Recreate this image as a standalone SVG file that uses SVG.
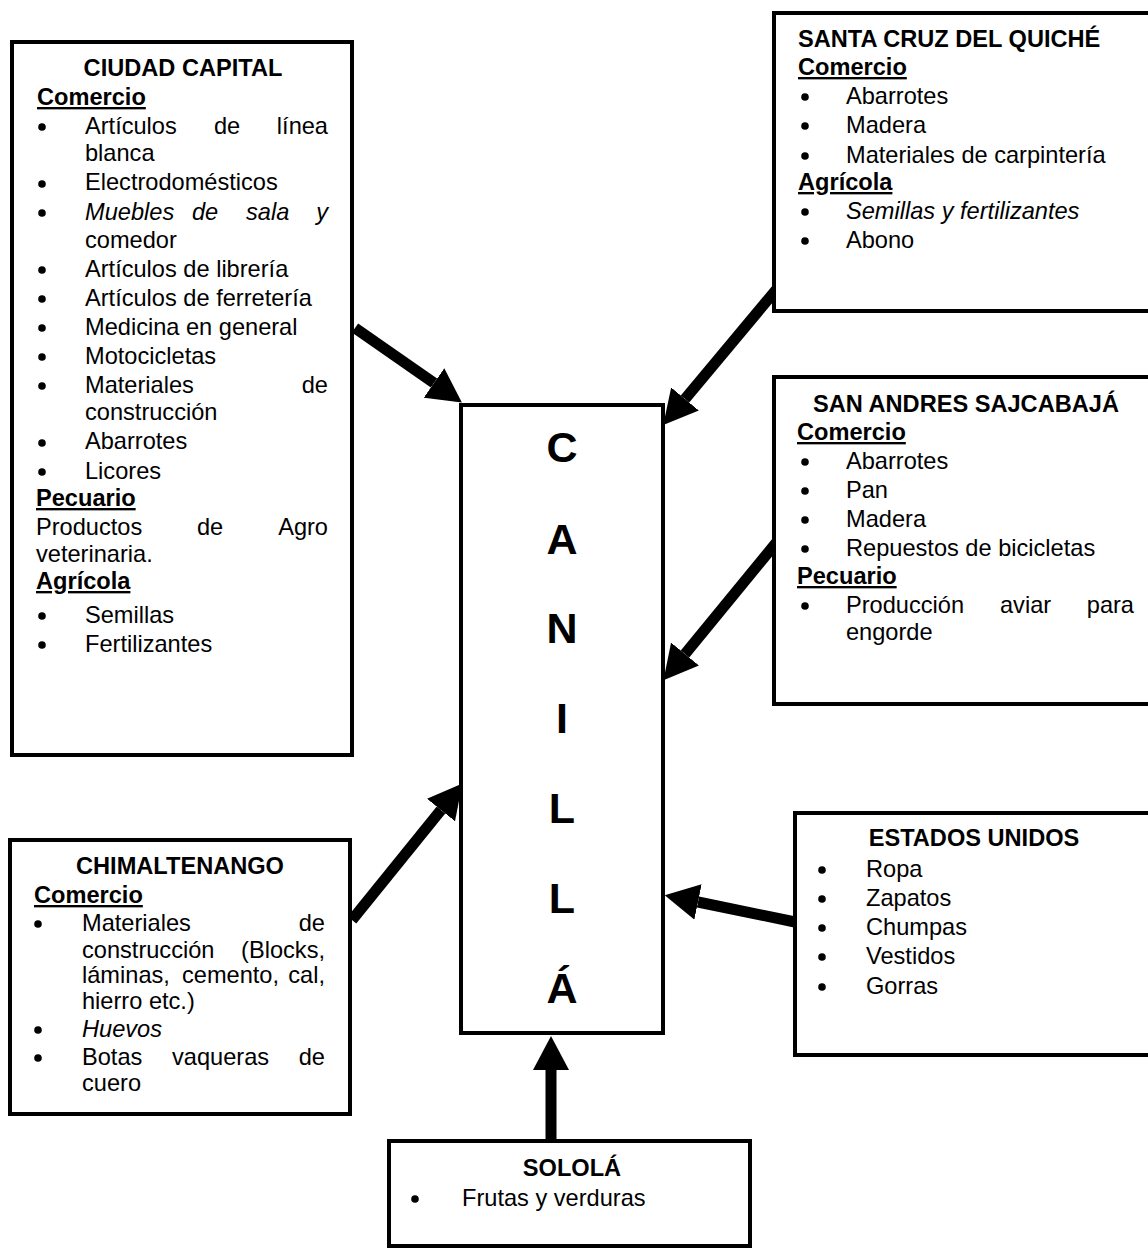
<svg xmlns="http://www.w3.org/2000/svg" width="1148" height="1249" viewBox="0 0 1148 1249">
<defs>
<style>
.box{fill:#fff;stroke:#000;stroke-width:4}
text{font-family:"Liberation Sans",Arial,sans-serif;font-size:23.6px;fill:#000}
.t{font-weight:bold;text-anchor:middle}
.h{font-weight:bold;text-decoration:underline}
.i{font-style:italic}
.big{font-weight:bold;font-size:43px;text-anchor:middle}
.conn{stroke:#000;stroke-width:11;fill:none}
</style>
<marker id="ah" markerUnits="userSpaceOnUse" markerWidth="34" markerHeight="36" refX="0" refY="18" orient="auto">
<path d="M0,0 L34,18 L0,36 z" fill="#000"/>
</marker>
</defs>
<rect width="1148" height="1249" fill="#fff"/>
<g id="connectors">
<line class="conn" x1="355" y1="328" x2="434" y2="383" marker-end="url(#ah)"/>
<line class="conn" x1="776" y1="290" x2="685" y2="399" marker-end="url(#ah)"/>
<line class="conn" x1="776" y1="543" x2="685" y2="654" marker-end="url(#ah)"/>
<line class="conn" x1="352" y1="920" x2="441" y2="810" marker-end="url(#ah)"/>
<line class="conn" x1="795" y1="922" x2="698" y2="902" marker-end="url(#ah)"/>
<line class="conn" x1="551" y1="1140" x2="551" y2="1070" marker-end="url(#ah)"/>
</g>
<g id="canilla">
<rect class="box" x="461" y="405" width="202" height="628"/>
<text class="big" x="562" y="462">C</text>
<text class="big" x="562" y="554">A</text>
<text class="big" x="562" y="643">N</text>
<text class="big" x="562" y="733">I</text>
<text class="big" x="562" y="823">L</text>
<text class="big" x="562" y="913">L</text>
<text class="big" x="562" y="1003">Á</text>
</g>
<g id="ciudad-capital">
<rect class="box" x="12" y="42" width="340" height="713"/>
<text class="t" x="183" y="76">CIUDAD CAPITAL</text>
<text class="h" x="37" y="105">Comercio</text>
<g fill="#000">
<circle cx="42" cy="127" r="3.8"/><circle cx="42" cy="184" r="3.8"/><circle cx="42" cy="213" r="3.8"/>
<circle cx="42" cy="270" r="3.8"/><circle cx="42" cy="299" r="3.8"/><circle cx="42" cy="328" r="3.8"/>
<circle cx="42" cy="357" r="3.8"/><circle cx="42" cy="386" r="3.8"/><circle cx="42" cy="443" r="3.8"/>
<circle cx="42" cy="472" r="3.8"/><circle cx="42" cy="616" r="3.8"/><circle cx="42" cy="645" r="3.8"/>
</g>
<text x="85" y="134">Artículos</text><text x="214" y="134">de</text><text x="328" y="134" text-anchor="end">línea</text>
<text x="85" y="161">blanca</text>
<text x="85" y="190">Electrodomésticos</text>
<text class="i" x="85" y="220">Muebles</text><text class="i" x="192" y="220">de</text><text class="i" x="246" y="220">sala</text><text class="i" x="328" y="220" text-anchor="end">y</text>
<text x="85" y="248">comedor</text>
<text x="85" y="277">Artículos de librería</text>
<text x="85" y="306">Artículos de ferretería</text>
<text x="85" y="335">Medicina en general</text>
<text x="85" y="364">Motocicletas</text>
<text x="85" y="393">Materiales</text><text x="328" y="393" text-anchor="end">de</text>
<text x="85" y="420">construcción</text>
<text x="85" y="449">Abarrotes</text>
<text x="85" y="479">Licores</text>
<text class="h" x="36" y="506">Pecuario</text>
<text x="36" y="535">Productos</text><text x="197" y="535">de</text><text x="328" y="535" text-anchor="end">Agro</text>
<text x="36" y="562">veterinaria.</text>
<text class="h" x="36" y="589">Agrícola</text>
<text x="85" y="623">Semillas</text>
<text x="85" y="652">Fertilizantes</text>
</g>
<g id="santa-cruz">
<rect class="box" x="774" y="13" width="380" height="298"/>
<text x="798" y="47" font-weight="bold">SANTA CRUZ DEL QUICHÉ</text>
<text class="h" x="798" y="75">Comercio</text>
<g fill="#000"><circle cx="805" cy="97" r="3.8"/><circle cx="805" cy="126" r="3.8"/><circle cx="805" cy="156" r="3.8"/><circle cx="805" cy="212" r="3.8"/><circle cx="805" cy="241" r="3.8"/></g>
<text x="846" y="104">Abarrotes</text>
<text x="846" y="133">Madera</text>
<text x="846" y="163">Materiales de carpintería</text>
<text class="h" x="798" y="190">Agrícola</text>
<text class="i" x="846" y="219">Semillas y fertilizantes</text>
<text x="846" y="248">Abono</text>
</g>
<g id="san-andres">
<rect class="box" x="774" y="377" width="380" height="327"/>
<text class="t" x="966" y="412">SAN ANDRES SAJCABAJÁ</text>
<text class="h" x="797" y="440">Comercio</text>
<g fill="#000"><circle cx="805" cy="462" r="3.8"/><circle cx="805" cy="491" r="3.8"/><circle cx="805" cy="520" r="3.8"/><circle cx="805" cy="549" r="3.8"/><circle cx="805" cy="606" r="3.8"/></g>
<text x="846" y="469">Abarrotes</text>
<text x="846" y="498">Pan</text>
<text x="846" y="527">Madera</text>
<text x="846" y="556">Repuestos de bicicletas</text>
<text class="h" x="797" y="584">Pecuario</text>
<text x="846" y="613">Producción</text><text x="1000" y="613">aviar</text><text x="1134" y="613" text-anchor="end">para</text>
<text x="846" y="640">engorde</text>
</g>
<g id="chimaltenango">
<rect class="box" x="10" y="840" width="340" height="274"/>
<text class="t" x="180" y="874">CHIMALTENANGO</text>
<text class="h" x="34" y="903">Comercio</text>
<g fill="#000"><circle cx="38" cy="924" r="3.8"/><circle cx="38" cy="1030" r="3.8"/><circle cx="38" cy="1058" r="3.8"/></g>
<text x="82" y="931">Materiales</text><text x="325" y="931" text-anchor="end">de</text>
<text x="82" y="958">construcción</text><text x="325" y="958" text-anchor="end">(Blocks,</text>
<text x="82" y="983">láminas,</text><text x="182" y="983">cemento,</text><text x="325" y="983" text-anchor="end">cal,</text>
<text x="82" y="1009">hierro etc.)</text>
<text class="i" x="82" y="1037">Huevos</text>
<text x="82" y="1065">Botas</text><text x="172" y="1065">vaqueras</text><text x="325" y="1065" text-anchor="end">de</text>
<text x="82" y="1091">cuero</text>
</g>
<g id="estados-unidos">
<rect class="box" x="795" y="813" width="360" height="242"/>
<text class="t" x="974" y="846">ESTADOS UNIDOS</text>
<g fill="#000"><circle cx="822" cy="870" r="3.8"/><circle cx="822" cy="899" r="3.8"/><circle cx="822" cy="928" r="3.8"/><circle cx="822" cy="957" r="3.8"/><circle cx="822" cy="987" r="3.8"/></g>
<text x="866" y="877">Ropa</text>
<text x="866" y="906">Zapatos</text>
<text x="866" y="935">Chumpas</text>
<text x="866" y="964">Vestidos</text>
<text x="866" y="994">Gorras</text>
</g>
<g id="solola">
<rect class="box" x="389" y="1141" width="361" height="105"/>
<text class="t" x="572" y="1176">SOLOLÁ</text>
<circle cx="415" cy="1199" r="3.8" fill="#000"/>
<text x="462" y="1206">Frutas y verduras</text>
</g>
</svg>
